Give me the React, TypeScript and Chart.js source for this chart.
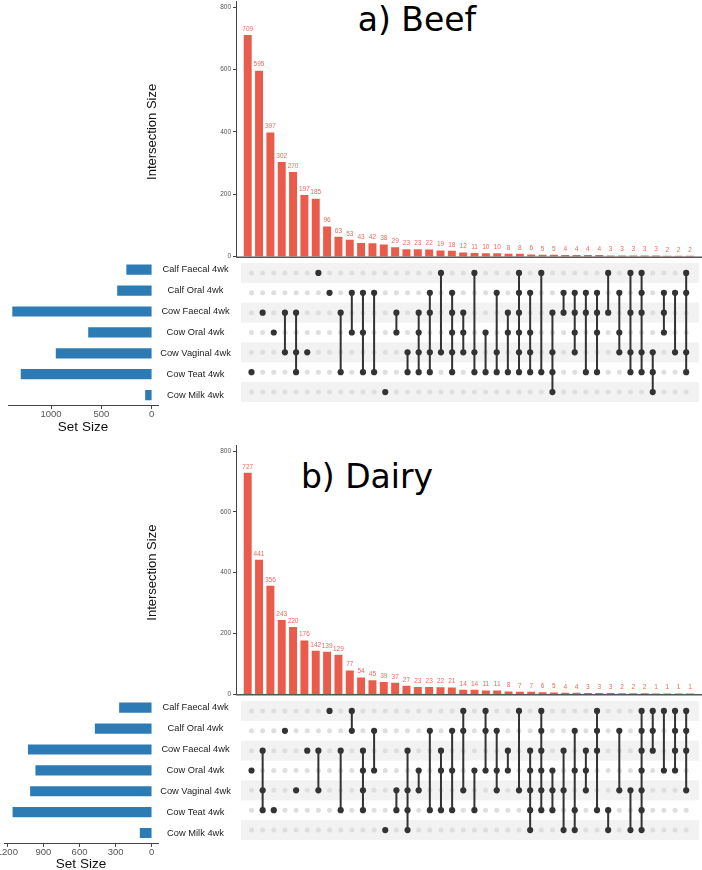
import React, { useEffect, useRef } from 'react';
import { Chart, registerables } from 'chart.js';
Chart.register(...registerables);
Chart.defaults.font.family = "'Liberation Sans', Arial, sans-serif";

// ---------------- DATA ----------------
const SETS = ['Calf Faecal 4wk', 'Calf Oral 4wk', 'Cow Faecal 4wk', 'Cow Oral 4wk', 'Cow Vaginal 4wk', 'Cow Teat 4wk', 'Cow Milk 4wk'];

const BEEF_INTERSECTIONS = [709, 595, 397, 302, 270, 197, 185, 96, 63, 53, 43, 42, 38, 29, 23, 23, 22, 19, 18, 12, 11, 10, 10, 8, 8, 6, 5, 5, 4, 4, 4, 4, 3, 3, 3, 3, 3, 2, 2, 2];
const BEEF_MEMBERS: number[][] = [[5], [2], [3], [2, 4], [2, 4, 5], [4], [0], [1], [2, 5], [1, 3], [1, 3, 5], [1, 5], [6], [2, 3], [4, 5], [2, 3, 4, 5], [1, 2, 4, 5], [0, 4], [1, 2, 3, 4, 5], [2, 3, 4], [0, 4, 5], [3, 5], [1, 4, 5], [2, 3, 5], [0, 1, 2, 3, 4, 5], [1, 3, 4, 5], [0, 5], [2, 4, 5, 6], [1, 2], [1, 2, 3, 4], [1, 2, 5], [1, 2, 3, 5], [0, 2], [1, 3, 4], [0, 2, 4, 5], [0, 1, 2, 4, 5], [4, 5, 6], [1, 2, 3], [1, 4], [0, 1, 4, 5]];
const BEEF_SET_SIZES = [249, 340, 1382, 628, 950, 1298, 62];
const BEEF_SET_TICKS = [0, 500, 1000];

const DAIRY_INTERSECTIONS = [727, 441, 356, 243, 220, 176, 142, 139, 129, 77, 54, 45, 39, 37, 27, 23, 23, 22, 21, 14, 14, 11, 11, 8, 7, 7, 6, 5, 4, 4, 3, 3, 3, 2, 2, 2, 1, 1, 1, 1];
const DAIRY_MEMBERS: number[][] = [[3], [2, 4, 5], [5], [1], [4], [2], [2, 4], [0], [2, 5], [0, 1], [2, 3, 4, 5], [1, 3], [6], [4, 5], [2, 4, 5, 6], [3, 4], [1, 5], [2, 3, 5], [1, 3, 5], [0, 1, 4], [3, 5], [0, 1, 3], [1, 3, 4], [2, 3], [0, 4], [2, 3, 4, 5, 6], [0, 1, 2, 3, 4, 5], [3, 4, 5], [2, 4, 6], [1, 3, 5, 6], [2, 3, 4], [0, 1, 2, 5], [5, 6], [1, 4], [4, 6], [0, 1, 2, 3, 4, 5, 6], [0, 1, 2], [0, 3], [0, 1, 2, 3], [0, 1, 2, 4]];
const DAIRY_SET_SIZES = [268, 470, 1026, 964, 1008, 1154, 96];
const DAIRY_SET_TICKS = [0, 300, 600, 900, 1200];

const INTERSECTION_TICKS = [0, 200, 400, 600, 800];

// ---------------- STYLE / LAYOUT ----------------
const RED = '#EA5B4B';
const RED_TEXT = '#EE6A5D';
const BLUE = '#2C7BB5';
const DARK = '#333333';
const LIGHT_DOT = '#DEDEDE';
const BAND = '#F2F2F2';
const X_MIN = -1.032;
const X_MAX = 40.06;
const MAT_LEFT = 236;
const MAT_WIDTH = 466;
const INT_LEFT = 140;
const SS_WIDTH = 233;
const SS_LABEL_W = 75;

type Panel = {
  title: string; titleX: number; titleY: number;
  sizes: number[]; members: number[][]; setSizes: number[]; setTicks: number[];
  ssMin: number; ssMax: number; ssLeft: number;
  barTop: number; barBottom: number; matTop: number; rowH: number; ssTitleY: number;
};

const PANELS: Panel[] = [
  {
    title: 'a) Beef', titleX: 417, titleY: 19,
    sizes: BEEF_INTERSECTIONS, members: BEEF_MEMBERS, setSizes: BEEF_SET_SIZES, setTicks: BEEF_SET_TICKS,
    ssMin: -62, ssMax: 1428, ssLeft: 8,
    barTop: 7, barBottom: 256.7, matTop: 259.25, rowH: 20.9, ssTitleY: 427,
  },
  {
    title: 'b) Dairy', titleX: 367, titleY: 476,
    sizes: DAIRY_INTERSECTIONS, members: DAIRY_MEMBERS, setSizes: DAIRY_SET_SIZES, setTicks: DAIRY_SET_TICKS,
    ssMin: -52.4, ssMax: 1228, ssLeft: 4,
    barTop: 451, barBottom: 694.3, matTop: 697.26, rowH: 20.88, ssTitleY: 864,
  },
];

function ChartBox({ left, top, width, height, makeConfig }: { left: number; top: number; width: number; height: number; makeConfig: () => any }) {
  const ref = useRef<HTMLCanvasElement>(null);
  useEffect(() => {
    const chart = new Chart(ref.current as HTMLCanvasElement, makeConfig());
    return () => chart.destroy();
  }, []);
  return (
    <canvas
      ref={ref}
      width={width}
      height={height}
      style={{ position: 'absolute', left, top, width, height, display: 'block' }}
    />
  );
}

function intersectionConfig(p: Panel, canvasTop: number, canvasH: number) {
  const labelPlugin = {
    id: 'barLabels',
    afterDatasetsDraw(chart: any) {
      const ctx = chart.ctx;
      const meta = chart.getDatasetMeta(0);
      ctx.save();
      ctx.font = "6.5px 'Liberation Sans', Arial, sans-serif";
      ctx.fillStyle = RED_TEXT;
      ctx.textAlign = 'center';
      ctx.textBaseline = 'alphabetic';
      meta.data.forEach((el: any, i: number) => {
        ctx.fillText(String(p.sizes[i]), el.x, el.y - 4.5);
      });
      const a = chart.chartArea;
      ctx.strokeStyle = '#555';
      ctx.lineWidth = 1.5;
      ctx.beginPath();
      ctx.moveTo(a.left, a.bottom + 0.5);
      ctx.lineTo(a.right, a.bottom + 0.5);
      ctx.stroke();
      ctx.strokeStyle = '#444';
      ctx.lineWidth = 1;
      ctx.beginPath();
      ctx.moveTo(a.left + 0.5, a.top);
      ctx.lineTo(a.left + 0.5, a.top - 6);
      ctx.stroke();
      ctx.restore();
    },
  };
  return {
    type: 'bar',
    data: {
      datasets: [{
        data: p.sizes.map((v, i) => ({ x: i, y: v })),
        backgroundColor: RED,
        borderWidth: 0,
        barThickness: 7.3,
      }],
    },
    options: {
      animation: false,
      responsive: false,
      events: [],
      layout: { padding: { top: p.barTop - canvasTop, bottom: canvasTop + canvasH - p.barBottom, left: 0, right: 0 } },
      plugins: { legend: { display: false }, tooltip: { enabled: false } },
      scales: {
        x: { type: 'linear', display: false, min: X_MIN, max: X_MAX, offset: false },
        y: {
          type: 'linear', min: 0, max: 800,
          afterBuildTicks: (s: any) => { s.ticks = INTERSECTION_TICKS.map((v) => ({ value: v })); },
          afterFit: (s: any) => { s.width = MAT_LEFT - INT_LEFT; },
          ticks: { font: { size: 6.5 }, color: '#555', padding: 2, callback: (v: any) => String(v) },
          grid: { drawOnChartArea: false, tickLength: 3, color: '#444' },
          border: { display: true, color: '#444', width: 1 },
          title: { display: true, text: 'Intersection Size', font: { size: 13, lineHeight: 1 }, color: '#111', padding: { top: 6, bottom: 0 } },
        },
      },
    },
    plugins: [labelPlugin],
  };
}

function matrixConfig(p: Panel, canvasTop: number, canvasH: number) {
  const bandPlugin = {
    id: 'bands',
    beforeDatasetsDraw(chart: any) {
      const ctx = chart.ctx;
      const a = chart.chartArea;
      const ys = chart.scales.y;
      ctx.save();
      ctx.fillStyle = BAND;
      for (let r = 0; r < SETS.length; r += 2) {
        const y1 = ys.getPixelForValue(r - 0.5);
        const y2 = ys.getPixelForValue(r + 0.5);
        ctx.fillRect(a.left + 1, Math.min(y1, y2), a.right - a.left, Math.abs(y2 - y1));
      }
      ctx.restore();
    },
  };
  const gray: any[] = [];
  const active: any[] = [];
  p.members.forEach((m, c) => {
    for (let r = 0; r < SETS.length; r++) {
      if (m.includes(r)) active.push({ x: c, y: r });
      else gray.push({ x: c, y: r });
    }
  });
  const lines = p.members
    .map((m, c) => ({ m, c }))
    .filter(({ m }) => m.length > 1)
    .map(({ m, c }) => ({
      data: [{ x: c, y: Math.min(...m) }, { x: c, y: Math.max(...m) }],
      showLine: true,
      borderColor: DARK,
      borderWidth: 2,
      pointRadius: 0,
      order: 1,
    }));
  return {
    type: 'scatter',
    data: {
      datasets: [
        { data: active, pointRadius: 3.1, pointBackgroundColor: DARK, pointBorderWidth: 0, order: 0 },
        ...lines,
        { data: gray, pointRadius: 2.5, pointBackgroundColor: LIGHT_DOT, pointBorderWidth: 0, order: 2 },
      ],
    },
    options: {
      animation: false,
      responsive: false,
      events: [],
      layout: { padding: { top: p.matTop - canvasTop, bottom: canvasTop + canvasH - (p.matTop + 7 * p.rowH), left: 0, right: 0 } },
      plugins: { legend: { display: false }, tooltip: { enabled: false } },
      scales: {
        x: { type: 'linear', display: false, min: X_MIN, max: X_MAX },
        y: { type: 'linear', display: false, min: -0.5, max: 6.5, reverse: true },
      },
    },
    plugins: [bandPlugin],
  };
}

function setSizeConfig(p: Panel, canvasTop: number, canvasH: number) {
  const padTop = p.matTop - canvasTop;
  const plotH = 7 * p.rowH;
  const offset = canvasTop + canvasH - p.ssTitleY;
  const labelPlugin = {
    id: 'setLabels',
    afterDraw(chart: any) {
      const ctx = chart.ctx;
      const a = chart.chartArea;
      const ys = chart.scales.y;
      ctx.save();
      ctx.font = "9.3px 'Liberation Sans', Arial, sans-serif";
      ctx.fillStyle = '#222';
      ctx.textAlign = 'center';
      ctx.textBaseline = 'middle';
      SETS.forEach((s, i) => ctx.fillText(s, a.right + SS_LABEL_W / 2, ys.getPixelForValue(i)));
      ctx.restore();
    },
  };
  return {
    type: 'bar',
    data: {
      labels: SETS,
      datasets: [{ data: p.setSizes, backgroundColor: BLUE, borderWidth: 0, barThickness: 9.5 }],
    },
    options: {
      indexAxis: 'y',
      animation: false,
      responsive: false,
      events: [],
      layout: { padding: { top: padTop, bottom: 0, left: p.ssLeft, right: SS_LABEL_W } },
      plugins: { legend: { display: false }, tooltip: { enabled: false } },
      scales: {
        y: { type: 'category', display: false },
        x: {
          type: 'linear', reverse: true, min: p.ssMin, max: p.ssMax,
          afterBuildTicks: (s: any) => { s.ticks = p.setTicks.map((v) => ({ value: v })); },
          afterFit: (s: any) => { s.height = canvasH - padTop - plotH; },
          ticks: { font: { size: 9.5 }, color: '#555', padding: 0, maxRotation: 0, callback: (v: any) => String(v) },
          grid: { drawOnChartArea: false, tickLength: 3.5, color: '#444' },
          border: { display: true, color: '#444', width: 1 },
          title: { display: true, text: 'Set Size', font: { size: 13.5, lineHeight: 1 }, color: '#111', padding: { top: 0, bottom: offset - 6.75 } },
        },
      },
    },
    plugins: [labelPlugin],
  };
}

function PanelView({ p }: { p: Panel }) {
  const intTop = Math.floor(p.barTop - 7);
  const intH = Math.ceil(p.barBottom - intTop + 8);
  const matTop = Math.floor(p.matTop);
  const matH = Math.ceil(p.matTop - matTop + 7 * p.rowH);
  const ssTop = matTop;
  const ssH = Math.min(Math.ceil(p.ssTitleY - ssTop + 12), 870 - ssTop);
  return (
    <>
      <div
        style={{
          position: 'absolute', left: p.titleX, top: p.titleY, transform: 'translate(-50%, -50%)',
          fontFamily: "'DejaVu Sans', sans-serif", fontSize: 33, lineHeight: 1, color: '#000', whiteSpace: 'nowrap',
        }}
      >
        {p.title}
      </div>
      <ChartBox left={INT_LEFT} top={intTop} width={702 - INT_LEFT} height={intH} makeConfig={() => intersectionConfig(p, intTop, intH)} />
      <ChartBox left={MAT_LEFT} top={matTop} width={MAT_WIDTH} height={matH} makeConfig={() => matrixConfig(p, matTop, matH)} />
      <ChartBox left={0} top={ssTop} width={SS_WIDTH} height={ssH} makeConfig={() => setSizeConfig(p, ssTop, ssH)} />
    </>
  );
}

export default function App() {
  return (
    <div style={{ position: 'absolute', left: 0, top: 0, width: 702, height: 870, overflow: 'hidden', background: '#fff' }}>
      {PANELS.map((p) => (
        <PanelView key={p.title} p={p} />
      ))}
    </div>
  );
}
